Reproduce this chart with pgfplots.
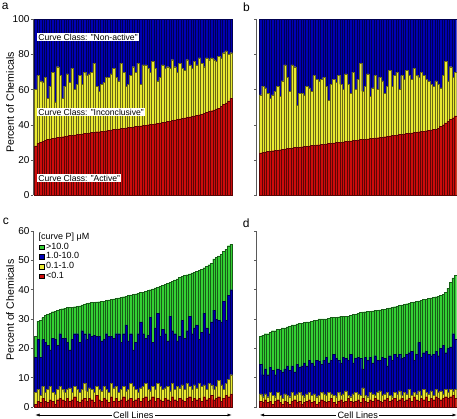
\documentclass[border=0pt]{standalone}
\usepackage{fontspec}
\setmainfont{Liberation Sans}
\usepackage{pgfplots}
\usepackage{pgfplotstable}
\pgfplotsset{compat=1.18}
\usetikzlibrary{arrows.meta}

\definecolor{cred}{RGB}{204,12,12}
\definecolor{cyel}{RGB}{234,234,50}
\definecolor{cblu}{RGB}{0,0,180}
\definecolor{cgrn}{RGB}{52,208,52}
\definecolor{caxis}{RGB}{90,90,90}

% Panel a: cumulative tops (non-active = 100, inconclusive top, active)
\pgfplotstableread{
blu yel red
100 60 28
100 68 29.5
100 65 30
100 64 30.5
100 67 31
100 55 31.5
100 62 32
100 70 32.3
100 53 32.5
100 73 32.7
100 68 33
100 55 33.2
100 62 33.4
100 69 33.6
100 64 33.8
100 72 34
100 60 34.2
100 63 34.4
100 68 34.6
100 63 34.8
100 70 35
100 68 35.2
100 69 35.4
100 70 35.6
100 75 35.8
100 62 36
100 59 36
100 63 36.2
100 64 36.4
100 67 36.6
100 67 36.8
100 69 37
100 72 37.2
100 67 37.4
100 65 37.6
100 75 37.8
100 70 38
100 62 38.2
100 63 38.4
100 68 38.6
100 73 38.8
100 70 39
100 75 39.2
100 63 39.4
100 74 39.6
100 74 39.8
100 72 40
100 70 40.2
100 76 40.4
100 72 40.6
100 65 40.8
100 67 41
100 74 41.2
100 72 41.5
100 73 41.8
100 72 42.1
100 77 42.4
100 73 42.7
100 70 43
100 75 43.3
100 72 43.6
100 71 43.9
100 77 44.2
100 74 44.5
100 72 44.8
100 76 45.1
100 74 45.4
100 78 45.7
100 75 46
100 73 46.5
100 78 47
100 77 47.5
100 78 48
100 77 48.5
100 76 49
100 79 49.5
100 78 50.5
100 81 51.5
100 82 52.5
100 80 53.5
100 81 55
}\dataA

% Panel b
\pgfplotstableread{
blu yel red
100 57 24
100 62 24.3
100 61 24.6
100 58 24.8
100 55 25
100 57 25.2
100 59 25.4
100 62 25.6
100 56 25.8
100 65 26
100 74 26.2
100 67 26.4
100 59 26.6
100 74 26.8
100 73 27
100 51 27.1
100 58 27.3
100 58 27.5
100 57 27.6
100 62 27.8
100 61 28
100 59 28.1
100 68 28.3
100 66 28.5
100 65 28.6
100 66 28.8
100 67 29
100 62 29.1
100 54 29.3
100 63 29.5
100 66 29.6
100 64 29.8
100 68 30
100 63 30.1
100 60 30.3
100 69 30.5
100 63 30.6
100 58 30.8
100 70 31
100 60 31.1
100 66 31.3
100 75 31.5
100 59 31.6
100 62 31.8
100 69 32
100 56 32.1
100 61 32.3
100 68 32.5
100 60 32.6
100 67 32.8
100 65 33
100 58 33.2
100 62 33.4
100 71 33.6
100 62 33.8
100 68 34
100 70 34.2
100 60 34.4
100 68 34.6
100 66 34.8
100 71 35
100 68 35.2
100 66 35.4
100 72 35.6
100 68 35.8
100 67 36
100 70 36.2
100 68 36.4
100 66 36.6
100 65 36.8
100 63 37
100 62 37.2
100 65 37.5
100 63 38
100 61 39
100 68 40
100 76 41
100 65 42
100 73 43
100 67 44
100 70 45
}\dataB

% Panel c: cumulative tops
\pgfplotstableread{
grn blu yel red
24 17 5 1
29.3 23 6 2
29.5 17 4 1.5
30.5 23 7 3
31.3 22 5 2
31.5 21 6 1.5
32 19.5 7 2.5
32.5 23.5 5 2
32.7 23 4.5 1
33 21 6 2.5
33.3 25 7 3
33.5 23.5 6 2.5
33.7 23.5 5 2
33.9 22 6 3
34 19.5 6.5 2
34 23 5 2.5
34.2 25 7 3.5
34.3 25 6 2
34.5 22 5 1.5
34.8 26 6 2.5
35.1 25 8 3
35.4 23 5.5 2
35.5 25 6.5 3
35.6 24 6 2.5
35.7 24.5 5 1.5
35.8 24 7 4
35.9 24 6 2.5
36 22.5 5.5 2
36.1 23 7 3
36.3 25 6 2.5
36.5 24 5 1.5
36.7 24 8 3.5
36.9 23.5 6.5 2
37 25 7 3
37.2 25 5 2
37.4 22 6 2.5
37.6 25 7 3.5
37.8 28 5.5 2
38 22.5 6 2.5
38.2 25 8 3
38.4 19.5 7 2
38.6 22 6 2.5
38.8 25 5 3
39 29 6.5 2
39.2 25 7 3
39.4 23.5 8 3.5
39.7 24.5 6 2
40 30.5 5.5 2.5
40.3 22 7 3.5
40.6 27 6 2
40.9 32 8 3
41.2 24 7 2.5
41.5 26.5 6 2
41.8 25 6.5 3
42.1 22.5 7 2.5
42.5 31 5.5 2
42.9 26 8 3.5
43.3 25 6 2.5
43.7 22.5 7 2
44.1 24 6.5 3
44.5 29.5 7.5 2.5
44.8 23.5 6 2
45.1 26 8 3
45.4 31 7 3.5
45.7 25 6 2
46 27 7.5 3
46.3 28 6.5 2.5
46.6 23 8 3
47 25.5 7 2
47.5 32 7.5 3.5
48 27 6 2.5
48.5 25 8 3
49 29 7.5 4
50.5 33 6 2.5
51 30 7 3
51.5 29.5 9 3.5
52 29 7.5 2
53 36 6 3
53.8 29.5 8 4
55 38 9.5 3.5
55.5 40 11 4.5
}\dataC

% Panel d: cumulative tops
\pgfplotstableread{
grn blu yel red
24 14.5 4.5 2
24.5 11 3.5 1.5
25 13 4.5 2.5
25 11 3.5 1.5
25.5 13.5 5 2
26 12.5 4 1
26 11 3.5 2
26.5 13 5 2.5
26.5 12.5 4 1.5
27 12 3 1
27 13 4.5 2
27.3 14 4 1.5
27.6 12.5 3.5 1
28 14 5 2
28 12 4 2.5
28.3 14.5 4.5 1.5
28.5 13.5 5 2
28.5 14 4 1
28.8 15 3.5 1.5
29 14 4.5 2
29 16 5 2.5
29.3 15 4 1.5
29.5 14 4.5 2
29.5 16 3.5 1
30 15.5 4 1.5
30 14.5 5 2.5
30 16 4.5 2
30 17 4 1.5
30.2 15 5 2
30.5 16 4.5 3
30.5 18 4 1.5
30.5 16.5 3.5 1
30.7 16 5 2
31 15 4 2.5
31 17 4.5 1.5
31 16.5 5.5 2
31 16 4 3
31.2 18 3.5 2
31.5 15 4.5 1.5
31.5 16.5 5 2
32 17 4.5 2.5
32.2 16.5 4 1.5
32.4 13 6.5 3
32.5 17 4 2
32.6 16 3.5 1.5
32.7 17 5 2.5
32.8 15 4.5 2
32.9 17.5 4 3
33 16 5 2.5
33.1 16 5.5 2
33.2 17 4 1.5
33.4 16.5 4.5 2.5
33.6 14 5 3
33.8 17.5 4 2
34 16 3.5 2.5
34.2 18 5 3
34.4 17 4.5 2
34.6 18 5.5 2.5
34.8 16.5 4 3
35 17 5 2
35.2 18 4.5 2.5
35.4 18.5 6 3
35.6 19 4 2
35.8 16 5 3.5
36 18 4.5 2.5
36.2 22 5.5 2
36.4 17 4 3
36.6 18.5 6 2.5
36.8 19 5 3.5
37 18 4.5 2
37.2 17.5 5.5 3
37.4 18 4 2.5
37.6 19 6 3.5
37.8 17.5 5 3
38 20 5.5 2.5
38.5 21 4.5 3
39 18.5 6 3.5
40.5 20 5 3
42.5 20.5 6 3.5
44 25 5.5 4
45 23 6 3
}\dataD

\pgfplotsset{
  panel/.style={
    scale only axis,
    xmax=80.5, ymin=0,
    axis y line*=left, axis x line=none,
    xtick=\empty,
    tick align=outside, major tick length=2.5pt,
    every tick/.style={caxis, line width=0.4pt},
    axis line style={caxis, line width=0.4pt},
    yticklabel style={font=\fontsize{10}{12}\selectfont, inner sep=1pt},
    /pgf/number format/assume math mode=true,
    clip=false,
  },
  bb/.style={ybar, bar width=1, bar shift=0pt, draw=#1!45!black, line width=0.3pt, fill=#1},
}

\begin{document}
\begin{tikzpicture}[x=1pt,y=1pt]
\path[use as bounding box] (0,0) rectangle (457,419);

% ---- panel a ----
\begin{axis}[panel, at={(33.1pt,224pt)}, anchor=south west,
  width=199.2pt, height=175.7pt, xmin=-1, ymax=100, ytick={0,20,...,100}]
\addplot[bb=cblu] table[x expr=\coordindex, y=blu] {\dataA};
\addplot[bb=cyel] table[x expr=\coordindex, y=yel] {\dataA};
\addplot[bb=cred] table[x expr=\coordindex, y=red] {\dataA};
\end{axis}

% ---- panel b ----
\begin{axis}[panel, at={(256.6pt,224pt)}, anchor=south west,
  width=200.1pt, height=175.7pt, xmin=-1.6, ymax=100, ytick={0,20,...,100},
  yticklabels={}]
\addplot[bb=cblu] table[x expr=\coordindex, y=blu] {\dataB};
\addplot[bb=cyel] table[x expr=\coordindex, y=yel] {\dataB};
\addplot[bb=cred] table[x expr=\coordindex, y=red] {\dataB};
\end{axis}

% ---- panel c ----
\begin{axis}[panel, at={(33.1pt,12pt)}, anchor=south west,
  width=199.2pt, height=176pt, xmin=-1, ymax=60, ytick={0,10,...,60},
  legend cell align=left,
  legend image code/.code={\draw[#1,draw=black,line width=0.3pt] (0pt,-2.3pt) rectangle (5pt,2.3pt);},
  legend style={draw=none, fill=none, at={(0.03,0.935)}, anchor=north west,
    inner sep=0pt, outer sep=0pt, row sep=0pt, column sep=1.5pt,
    font=\fontsize{9}{9}\selectfont,
    nodes={inner sep=0.3pt, text height=6.6pt, text depth=2.4pt}}]
\addplot[bb=cgrn] table[x expr=\coordindex, y=grn] {\dataC};
\addlegendentry{>10.0}
\addplot[bb=cblu] table[x expr=\coordindex, y=blu] {\dataC};
\addlegendentry{1.0-10.0}
\addplot[bb=cyel] table[x expr=\coordindex, y=yel] {\dataC};
\addlegendentry{0.1-1.0}
\addplot[bb=cred] table[x expr=\coordindex, y=red] {\dataC};
\addlegendentry{<0.1}
\end{axis}

% ---- panel d ----
\begin{axis}[panel, at={(256.6pt,12pt)}, anchor=south west,
  width=200.1pt, height=176pt, xmin=-1.6, ymax=60, ytick={0,10,...,60},
  yticklabels={}]
\addplot[bb=cgrn] table[x expr=\coordindex, y=grn] {\dataD};
\addplot[bb=cblu] table[x expr=\coordindex, y=blu] {\dataD};
\addplot[bb=cyel] table[x expr=\coordindex, y=yel] {\dataD};
\addplot[bb=cred] table[x expr=\coordindex, y=red] {\dataD};
\end{axis}

% annotations panel a
\begin{scope}[every node/.style={fill=white, inner xsep=1.5pt, inner ysep=0.8pt, anchor=west, font=\fontsize{8.6}{10}\selectfont}]
\node at (36.7,382) {Curve Class: "Non-active"};
\node at (36.7,307) {Curve Class: "Inconclusive"};
\node at (36.7,240.7) {Curve Class: "Active"};
\end{scope}

% legend title panel c
\node[anchor=west, inner sep=0pt, font=\fontsize{9}{10}\selectfont] at (38.5,182.3) {[curve P] μM};

% y labels
\node[rotate=90, font=\fontsize{10.6}{12}\selectfont] at (10,316.5) {Percent of Chemicals};
\node[rotate=90, font=\fontsize{10.6}{12}\selectfont] at (10,109) {Percent of Chemicals};

% panel letters
\begin{scope}[every node/.style={anchor=base west, inner sep=0pt, font=\fontsize{12}{14}\selectfont}]
\node at (1.7,409) {a};
\node at (243,407) {b};
\node at (2.7,194.7) {c};
\node at (242.7,191.3) {d};
\end{scope}

% cell lines arrows
\draw[{Latex[length=4pt,width=3pt]}-{Latex[length=4pt,width=3pt]}, line width=0.5pt] (35.5,4) -- (231.5,4);
\node[fill=white, inner xsep=1.5pt, inner ysep=0.5pt, font=\fontsize{9.2}{10}\selectfont] at (133.3,4) {Cell Lines};
\draw[{Latex[length=4pt,width=3pt]}-{Latex[length=4pt,width=3pt]}, line width=0.5pt] (260,4) -- (456.5,4);
\node[fill=white, inner xsep=1.5pt, inner ysep=0.5pt, font=\fontsize{9.2}{10}\selectfont] at (357.7,4) {Cell Lines};
\end{tikzpicture}
\end{document}
